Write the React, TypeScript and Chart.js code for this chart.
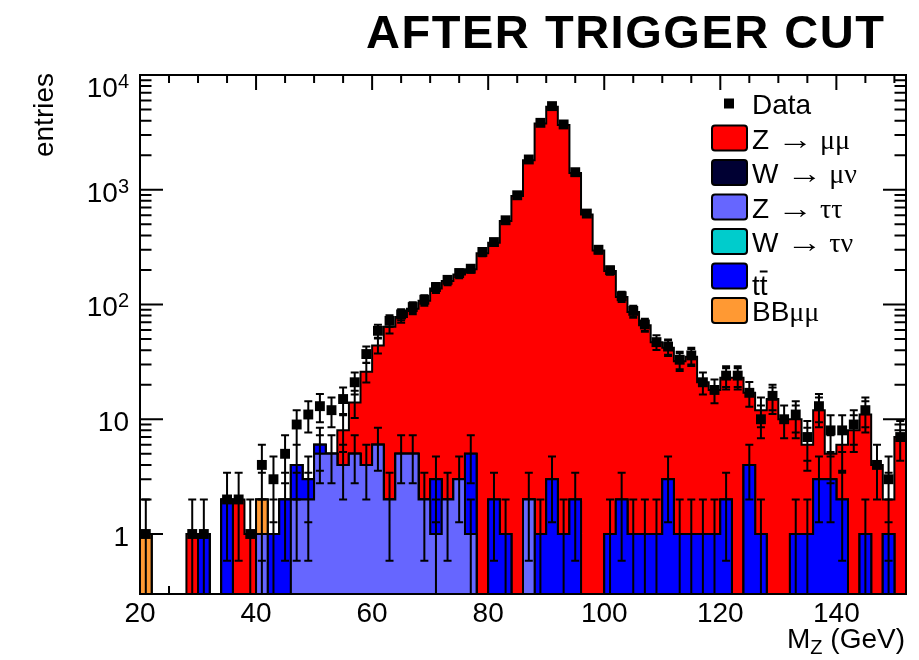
import React, { useEffect, useRef } from "react";
import { Chart, registerables } from "chart.js";

Chart.register(...registerables);

// ---------------- DATA ----------------
// lower edges of the 2 GeV bins of M_Z (GeV); last bin ends at 152
const binLowEdges = [
  20, 22, 24, 26, 28, 30, 32, 34, 36, 38,
  40, 42, 44, 46, 48, 50, 52, 54, 56, 58,
  60, 62, 64, 66, 68, 70, 72, 74, 76, 78,
  80, 82, 84, 86, 88, 90, 92, 94, 96, 98,
  100, 102, 104, 106, 108, 110, 112, 114, 116, 118,
  120, 122, 124, 126, 128, 130, 132, 134, 136, 138,
  140, 142, 144, 146, 148, 150,
];
const binWidth = 2;
const xRange = [20, 152];
const yRange = [0.3, 10000];

const dataCounts = [
  1, 0, 0, 0, 1, 1, 0, 2, 2, 1,
  4, 3, 5, 9, 11, 13, 12, 15, 21, 37,
  59, 72, 82, 95, 110, 142, 164, 188, 205, 287,
  350, 542, 895, 1836, 3830, 5355, 3707, 1422, 620, 300,
  199, 118, 88, 67, 47, 43, 33, 36, 21, 18,
  24, 24, 17, 10, 16, 10, 11, 7, 13, 8,
  8, 9, 12, 4, 3, 7,
];

const zMuMu = [
  0, 0, 0, 0, 1, 0, 0, 0, 2, 1,
  0, 0, 0, 0, 0, 0, 0, 4, 9, 22,
  38, 62, 73, 87, 106, 135, 158, 180, 198, 280,
  343, 534, 880, 1808, 3779, 5297, 3659, 1398, 610, 296,
  195, 114, 85, 65, 46, 39, 31, 34, 20, 17,
  21, 23, 13, 11, 15, 10, 9, 5, 9, 2,
  4, 8, 10, 4, 1, 7,
];

const wMuNu = [
  0, 0, 0, 0, 0, 0, 0, 0, 0, 0,
  0, 0, 0, 0, 0, 0, 0, 0, 0, 0,
  0, 0, 0, 0, 0, 0, 0, 0, 0, 0,
  0, 0, 0, 0, 0, 0, 0, 0, 0, 0,
  0, 0, 0, 0, 0, 0, 0, 0, 0, 0,
  0, 0, 0, 0, 0, 0, 0, 0, 0, 0,
  0, 0, 0, 0, 0, 0,
];

const zTauTau = [
  0, 0, 0, 0, 0, 0, 0, 0, 0, 0,
  1, 0, 0, 2, 2, 5, 5, 4, 5, 4,
  6, 2, 5, 5, 2, 1, 2, 3, 1, 0,
  0, 0, 0, 2, 0, 0, 0, 0, 0, 0,
  0, 0, 0, 0, 0, 0, 0, 0, 0, 0,
  0, 0, 0, 0, 0, 0, 0, 0, 0, 0,
  0, 0, 0, 0, 0, 0,
];

const wTauNu = [
  0, 0, 0, 0, 0, 0, 0, 0, 0, 0,
  0, 0, 0, 0, 0, 0, 0, 0, 0, 0,
  0, 0, 0, 0, 0, 0, 0, 0, 0, 0,
  0, 0, 0, 0, 0, 0, 0, 0, 0, 0,
  0, 0, 0, 0, 0, 0, 0, 0, 0, 0,
  0, 0, 0, 0, 0, 0, 0, 0, 0, 0,
  0, 0, 0, 0, 0, 0,
];

const ttBar = [
  0, 0, 0, 0, 0, 1, 0, 2, 0, 0,
  0, 1, 2, 2, 1, 1, 0, 0, 0, 0,
  0, 0, 0, 0, 0, 2, 0, 0, 4, 0,
  2, 1, 0, 0, 1, 3, 1, 2, 0, 0,
  1, 2, 1, 1, 1, 3, 1, 1, 1, 1,
  2, 0, 4, 1, 0, 0, 1, 1, 3, 3,
  2, 0, 1, 0, 1, 0,
];

const bbMuMu = [
  1, 0, 0, 0, 0, 0, 0, 0, 0, 0,
  1, 0, 0, 0, 0, 0, 0, 0, 0, 0,
  0, 0, 0, 0, 0, 0, 0, 0, 0, 0,
  0, 0, 0, 0, 0, 0, 0, 0, 0, 0,
  0, 0, 0, 0, 0, 0, 0, 0, 0, 0,
  0, 0, 0, 0, 0, 0, 0, 0, 0, 0,
  0, 0, 0, 0, 0, 0,
];

const xTickLabels = [20, 40, 60, 80, 100, 120, 140];
const yTickValues = [1, 10, 100, 1000, 10000];
const yTickLabels = [["1", ""], ["10", ""], ["10", "2"], ["10", "3"], ["10", "4"]];

const titleText = "AFTER TRIGGER CUT";
const yTitle = "entries";

// stack order bottom -> top
const stackLayers = [
  { name: "Z → ττ", values: zTauTau, color: "#6666ff" },
  { name: "W → τν", values: wTauNu, color: "#00cccc" },
  { name: "tt̄", values: ttBar, color: "#0000ff" },
  { name: "BBμμ", values: bbMuMu, color: "#ff9933" },
  { name: "W → μν", values: wMuNu, color: "#000033" },
  { name: "Z → μμ", values: zMuMu, color: "#ff0000" },
];

// ---------------- DRAWING HELPERS ----------------
const SANS = "'Liberation Sans', Arial, Helvetica, sans-serif";
const SERIF = "'Liberation Serif', 'DejaVu Serif', 'Times New Roman', serif";
const FLOOR = 1e-3;

type Run = { t: string; font: string; dy?: number; width?: number };

function drawRuns(ctx: CanvasRenderingContext2D, x: number, y: number, runs: Run[]) {
  let cx = x;
  for (const r of runs) {
    ctx.font = r.font;
    const w = ctx.measureText(r.t).width;
    if (r.width && w > 0) {
      ctx.save();
      ctx.translate(cx, y + (r.dy || 0));
      ctx.scale(r.width / w, 1);
      ctx.fillText(r.t, 0, 0);
      ctx.restore();
      cx += r.width;
    } else {
      ctx.fillText(r.t, cx, y + (r.dy || 0));
      cx += w;
    }
  }
  return cx;
}

function runsWidth(ctx: CanvasRenderingContext2D, runs: Run[]) {
  let w = 0;
  for (const r of runs) {
    ctx.font = r.font;
    w += r.width ? r.width : ctx.measureText(r.t).width;
  }
  return w;
}

function cumulativeLayers() {
  let running = binLowEdges.map(() => 0);
  return stackLayers.map((layer) => {
    running = running.map((r, i) => r + layer.values[i]);
    return { ...layer, cum: running.slice() };
  });
}

function errorBar(ctx: CanvasRenderingContext2D, ys: any, bottom: number, px: number, n: number) {
  const e = Math.sqrt(n);
  const yHi = ys.getPixelForValue(n + e);
  const lo = n - e;
  const yLo = lo > 0 ? ys.getPixelForValue(lo) : bottom + 5;
  ctx.moveTo(px, yHi);
  ctx.lineTo(px, yLo);
  ctx.moveTo(px - 4, yHi);
  ctx.lineTo(px + 4, yHi);
  if (lo > 0) {
    ctx.moveTo(px - 4, yLo);
    ctx.lineTo(px + 4, yLo);
  }
}

const rootPlugin = {
  id: "rootStyle",
  beforeDatasetsDraw(chart: any) {
    const { ctx, chartArea } = chart;
    const xs = chart.scales.x;
    const ys = chart.scales.y;
    ctx.save();
    ctx.strokeStyle = "#000";
    ctx.lineWidth = 2;
    ctx.beginPath();
    for (let v = xRange[0]; v <= xRange[1]; v += 5) {
      const px = xs.getPixelForValue(v);
      const len = v % 20 === 0 ? 15 : 8;
      ctx.moveTo(px, chartArea.top);
      ctx.lineTo(px, chartArea.top + len);
      ctx.moveTo(px, chartArea.bottom);
      ctx.lineTo(px, chartArea.bottom - len);
    }
    for (let d = -1; d <= 4; d++) {
      for (let k = 1; k <= 9; k++) {
        const v = k * Math.pow(10, d);
        if (v < yRange[0] * 0.999 || v > yRange[1] * 1.001) continue;
        const py = ys.getPixelForValue(v);
        const len = k === 1 ? 23 : 11.5;
        ctx.moveTo(chartArea.left, py);
        ctx.lineTo(chartArea.left + len, py);
        ctx.moveTo(chartArea.right, py);
        ctx.lineTo(chartArea.right - len, py);
      }
    }
    ctx.stroke();
    ctx.restore();
  },
  beforeDatasetDraw(chart: any, args: any) {
    const ds = chart.data.datasets[args.index];
    if (!ds || ds.label !== "Data") return;
    const { ctx, chartArea } = chart;
    const xs = chart.scales.x;
    const ys = chart.scales.y;
    ctx.save();
    ctx.beginPath();
    ctx.rect(chartArea.left, chartArea.top, chartArea.right - chartArea.left, chartArea.bottom - chartArea.top);
    ctx.clip();
    ctx.strokeStyle = "#000";
    ctx.lineWidth = 2;
    ctx.beginPath();
    // error bars of the stacked sums
    const layers = cumulativeLayers();
    binLowEdges.forEach((e, i) => {
      const px = xs.getPixelForValue(e + binWidth / 2);
      const seen: number[] = [];
      layers.forEach((l) => {
        const c = l.cum[i];
        if (c > 0 && seen.indexOf(c) < 0) {
          seen.push(c);
          errorBar(ctx, ys, chartArea.bottom, px, c);
        }
      });
    });
    // error bars of the data
    dataCounts.forEach((n, i) => {
      if (n <= 0) return;
      const px = xs.getPixelForValue(binLowEdges[i] + binWidth / 2);
      errorBar(ctx, ys, chartArea.bottom, px, n);
    });
    ctx.stroke();
    ctx.restore();
  },
  afterDatasetsDraw(chart: any) {
    const { ctx, chartArea } = chart;
    ctx.save();
    ctx.strokeStyle = "#000";
    ctx.lineWidth = 2;
    ctx.strokeRect(chartArea.left, chartArea.top, chartArea.right - chartArea.left, chartArea.bottom - chartArea.top);
    ctx.restore();
  },
  afterDraw(chart: any) {
    const { ctx, chartArea } = chart;
    const xs = chart.scales.x;
    const ys = chart.scales.y;
    ctx.save();
    ctx.fillStyle = "#000";
    ctx.textBaseline = "alphabetic";

    // x tick labels
    ctx.font = `28px ${SANS}`;
    ctx.textAlign = "center";
    xTickLabels.forEach((v) => {
      ctx.fillText(String(v), xs.getPixelForValue(v), 622);
    });

    // y tick labels
    ctx.textAlign = "left";
    yTickValues.forEach((v, i) => {
      const [base, sup] = yTickLabels[i];
      const py = Math.max(ys.getPixelForValue(v), chartArea.top + 10);
      const runs: Run[] = [{ t: base, font: `28px ${SANS}` }];
      if (sup) runs.push({ t: sup, font: `20px ${SANS}`, dy: -9 });
      const w = runsWidth(ctx, runs);
      drawRuns(ctx, 129 - w, py + 12, runs);
    });

    // x title
    {
      const runs: Run[] = [
        { t: "M", font: `28px ${SANS}` },
        { t: "Z", font: `20px ${SANS}`, dy: 6 },
        { t: " (GeV)", font: `28px ${SANS}` },
      ];
      const w = runsWidth(ctx, runs);
      drawRuns(ctx, 905 - w, 648, runs);
    }

    // y title
    ctx.save();
    ctx.translate(53, 73);
    ctx.rotate(-Math.PI / 2);
    ctx.font = `28px ${SANS}`;
    ctx.textAlign = "right";
    ctx.fillText(yTitle, 0, 0);
    ctx.restore();

    // title, spread to fill its span
    {
      ctx.font = `bold 47px ${SANS}`;
      ctx.textAlign = "left";
      const chars = Array.from(titleText);
      const natural = chars.reduce((s, c) => s + ctx.measureText(c).width, 0);
      const target = 884 - 366;
      const extra = (target - natural) / (chars.length - 1);
      let cx = 366;
      chars.forEach((c) => {
        ctx.fillText(c, cx, 48);
        cx += ctx.measureText(c).width + extra;
      });
    }

    // legend
    const rowY0 = 103.5;
    const rowStep = 34.5;
    const boxL = 712;
    const boxW = 35;
    const boxH = 25;
    const textX = 752;
    ctx.textAlign = "left";
    ctx.fillRect(724, rowY0 - 5, 10, 10);
    ctx.font = `28px ${SANS}`;
    ctx.fillText("Data", textX, rowY0 + 10.5);

    const arrow = (lead: string, tail: string): Run[] => [
      { t: lead + " ", font: `28px ${SANS}` },
      { t: "→", font: `28px ${SERIF}`, width: 36 },
      { t: " " + tail, font: `28px ${SERIF}` },
    ];
    const legendRows: { color: string; runs: Run[]; dy?: number; bar?: boolean }[] = [
      { color: stackLayers[5].color, runs: arrow("Z", "μμ") },
      { color: stackLayers[4].color, runs: arrow("W", "μν") },
      { color: stackLayers[0].color, runs: arrow("Z", "ττ") },
      { color: stackLayers[1].color, runs: arrow("W", "τν") },
      { color: stackLayers[2].color, runs: [{ t: "tt", font: `28px ${SANS}` }], dy: 8, bar: true },
      { color: stackLayers[3].color, runs: [{ t: "BB", font: `28px ${SANS}` }, { t: "μμ", font: `28px ${SERIF}` }] },
    ];
    legendRows.forEach((r, i) => {
      const cy = rowY0 + rowStep * (i + 1);
      ctx.fillStyle = r.color;
      ctx.strokeStyle = "#000";
      ctx.lineWidth = 2;
      ctx.beginPath();
      (ctx as any).roundRect(boxL, cy - boxH / 2, boxW, boxH, 3);
      ctx.fill();
      ctx.stroke();
      ctx.fillStyle = "#000";
      const base = cy + 10.5 + (r.dy || 0);
      drawRuns(ctx, textX, base, r.runs);
      if (r.bar) {
        ctx.font = `28px ${SANS}`;
        const wt = ctx.measureText("t").width;
        ctx.fillRect(textX + wt, base - 24, wt, 2);
      }
    });
    ctx.restore();
  },
};

function buildDatasets() {
  const cumulative = cumulativeLayers();
  const lastEdge = binLowEdges[binLowEdges.length - 1] + binWidth;
  const histSets = cumulative.map((layer, k) => ({
    type: "line" as const,
    label: layer.name,
    data: [
      { x: binLowEdges[0], y: FLOOR },
      ...binLowEdges.map((e, i) => ({ x: e, y: layer.cum[i] > 0 ? layer.cum[i] : FLOOR })),
      { x: lastEdge, y: FLOOR },
    ],
    stepped: true,
    fill: "start",
    backgroundColor: layer.color,
    borderColor: "#000",
    borderWidth: 2,
    pointRadius: 0,
    tension: 0,
    order: k + 1,
  }));
  const dataSet = {
    type: "line" as const,
    label: "Data",
    data: binLowEdges
      .map((e, i) => ({ x: e + binWidth / 2, y: dataCounts[i] }))
      .filter((p) => p.y > 0),
    showLine: false,
    pointStyle: "rect",
    pointRadius: 7,
    pointBackgroundColor: "#000",
    pointBorderWidth: 0,
    order: 0,
  };
  return [...histSets, dataSet];
}

export default function App() {
  const ref = useRef<HTMLCanvasElement>(null);
  useEffect(() => {
    const canvas = ref.current;
    if (!canvas) return;
    const chart = new Chart(canvas, {
      type: "line",
      data: { datasets: buildDatasets() as any },
      options: {
        animation: false,
        responsive: false,
        events: [],
        layout: { padding: { left: 140, right: 13, top: 75, bottom: 66 } },
        scales: {
          x: { type: "linear", min: xRange[0], max: xRange[1], display: false },
          y: { type: "logarithmic", min: yRange[0], max: yRange[1], display: false },
        },
        plugins: { legend: { display: false }, tooltip: { enabled: false } },
      },
      plugins: [rootPlugin as any],
    });
    return () => chart.destroy();
  }, []);
  return (
    <div style={{ position: "absolute", left: 0, top: 0, width: 919, height: 660, background: "#fff" }}>
      <canvas ref={ref} width={919} height={660} style={{ display: "block", width: 919, height: 660 }} />
    </div>
  );
}
